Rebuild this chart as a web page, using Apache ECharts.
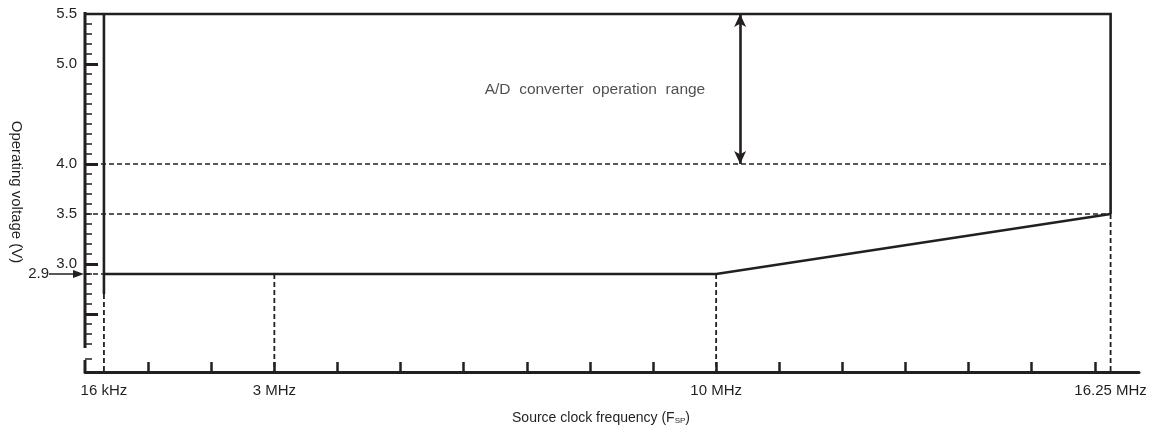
<!DOCTYPE html>
<html><head><meta charset="utf-8">
<script src="https://cdn.jsdelivr.net/npm/echarts@6/dist/echarts.min.js"></script>
<style>html,body{margin:0;padding:0;background:#fff}#c{width:1168px;height:435px}</style>
</head><body><div id="c"></div>
<script>
// ---- data ----
const xTickLabels = ['16 kHz', '3 MHz', '10 MHz', '16.25 MHz'];
const xTickLabelPos = [0.3, 3, 10, 16.25];          // 16 kHz is drawn off-scale near the origin, as in the original
const xTicks = [1, 2, 3, 4, 5, 6, 7, 8, 9, 10, 11, 12, 13, 14, 15, 16];
const yLabels = [3.0, 3.5, 4.0, 5.0, 5.5];
const yMinorTicks = [2.05, 2.2, 2.3, 2.4, 2.6, 2.7, 2.8, 2.9, 3.1, 3.2, 3.3, 3.4, 3.5, 3.6, 3.7, 3.8, 3.9,
  4.1, 4.2, 4.3, 4.4, 4.5, 4.6, 4.7, 4.8, 4.9, 5.1, 5.2, 5.3, 5.4];
const yMajorTicks = [2.5, 3.0, 4.0, 5.0];
const yAxisSegments = [[5.52, 2.16], [2.04, 1.92]];  // broken voltage axis
const minVoltageLine = [[0.3, 2.9], [10, 2.9], [16.25, 3.5]];
const upperBoundLine = [[0, 5.5], [16.25, 5.5], [16.25, 3.5]];
const lowFreqSolid = [[0.3, 5.5], [0.3, 2.7]];
const dashedLevels = [4.0, 3.5];
const dashedMinLevel = [[0, 2.9], [0.3, 2.9]];
const dropLines = [[0.3, 2.7], [3, 2.9], [10, 2.9], [16.25, 3.5]];
const adRangeArrow = [10.38, 5.5, 4.0];
const adLabel = [8.08, 4.74];
const adText = 'A/D  converter  operation  range';
const markedVoltage = 2.9;
const xRange = [0, 16.7];
const yRange = [1.92, 5.52];

const C = '#231f20';
const FONT = '"Liberation Sans", Arial, Helvetica, sans-serif';

function seg(data, dashed, width) {
  return {
    type: 'line', data: data, symbol: 'none', clip: false, silent: true, animation: false,
    lineStyle: { color: C, width: width, type: dashed ? [5, 3] : 'solid', cap: 'butt', join: 'miter' },
    z: 3
  };
}

const series = [];
yAxisSegments.forEach(s => series.push(seg([[xRange[0], s[0]], [xRange[0], s[1]]], false, 3)));
series.push(seg(upperBoundLine, false, 2.6));
series.push(seg(lowFreqSolid, false, 2.6));
series.push(seg(minVoltageLine, false, 2.6));
dashedLevels.forEach(v => series.push(seg([[0, v], [16.25, v]], true, 1.6)));
series.push(seg(dashedMinLevel, true, 1.6));
dropLines.forEach(p => series.push(seg([[p[0], p[1]], [p[0], yRange[0]]], true, 1.8)));
series.push({
  type: 'scatter', data: [adLabel], symbolSize: 0, silent: true, animation: false,
  label: { show: true, position: 'inside', formatter: adText, color: C, fontSize: 15.5, fontFamily: FONT },
  markLine: {
    silent: true, animation: false, symbol: ['arrow', 'arrow'], symbolSize: [9, 13],
    label: { show: false },
    lineStyle: { color: C, width: 2.6, type: 'solid' },
    data: [[{ coord: [adRangeArrow[0], adRangeArrow[1]] }, { coord: [adRangeArrow[0], adRangeArrow[2]] }]]
  }
});

const chart = echarts.init(document.getElementById('c'), null, { renderer: 'canvas' });
chart.setOption({
  animation: false,
  backgroundColor: '#fff',
  grid: { left: 85, right: 29, top: 12, bottom: 63, containLabel: false, outerBoundsMode: 'none' },
  xAxis: {
    type: 'value', min: xRange[0], max: xRange[1],
    name: 'Source clock frequency (F{sub|SP})', nameLocation: 'middle', nameGap: 39,
    nameTextStyle: { color: C, fontSize: 14, fontFamily: FONT, padding: [0, 22, 0, 0],
      rich: { sub: { fontSize: 8, fontFamily: FONT, color: C, verticalAlign: 'bottom', padding: [6, 0, 0, 0] } } },
    splitLine: { show: false },
    axisLine: { show: true, lineStyle: { color: C, width: 3 } },
    axisTick: { show: true, inside: true, length: 10, customValues: xTicks, lineStyle: { color: C, width: 2.5 } },
    axisLabel: {
      show: true, customValues: xTickLabelPos, margin: 11, color: C, fontSize: 15, fontFamily: FONT,
      formatter: v => { const i = xTickLabelPos.findIndex(p => Math.abs(p - v) < 1e-6); return i >= 0 ? xTickLabels[i] : ''; }
    }
  },
  yAxis: [{
    type: 'value', min: yRange[0], max: yRange[1],
    name: 'Operating voltage (V)', nameLocation: 'middle', nameRotate: -90, nameGap: 61,
    nameTextStyle: { color: C, fontSize: 15, fontFamily: FONT },
    splitLine: { show: false },
    axisLine: { show: false },
    axisTick: { show: true, inside: true, length: 7, customValues: yMinorTicks, lineStyle: { color: C, width: 1.5 } },
    axisLabel: { show: true, customValues: yLabels, margin: 8, color: C, fontSize: 15, fontFamily: FONT,
      formatter: v => v.toFixed(1) }
  }, {
    type: 'value', min: yRange[0], max: yRange[1], position: 'left', offset: 0,
    splitLine: { show: false }, axisLine: { show: false },
    axisTick: { show: true, inside: true, length: 13, customValues: yMajorTicks, lineStyle: { color: C, width: 3 } },
    axisLabel: { show: false }
  }],
  series: series
});

// "2.9 →" pointer at the left of the voltage axis
const p = chart.convertToPixel({ gridIndex: 0 }, [xRange[0], markedVoltage]);
chart.setOption({
  graphic: [
    { type: 'text', x: p[0] - 36, y: p[1], silent: true,
      style: { text: markedVoltage.toFixed(1), align: 'right', verticalAlign: 'middle', fill: C, fontSize: 15, fontFamily: FONT } },
    { type: 'line', silent: true, shape: { x1: p[0] - 36, y1: p[1], x2: p[0] - 9, y2: p[1] },
      style: { stroke: C, lineWidth: 1.5 } },
    { type: 'polygon', silent: true, shape: { points: [[p[0] - 1, p[1]], [p[0] - 12, p[1] - 4], [p[0] - 12, p[1] + 4]] },
      style: { fill: C } }
  ]
});
</script></body></html>
